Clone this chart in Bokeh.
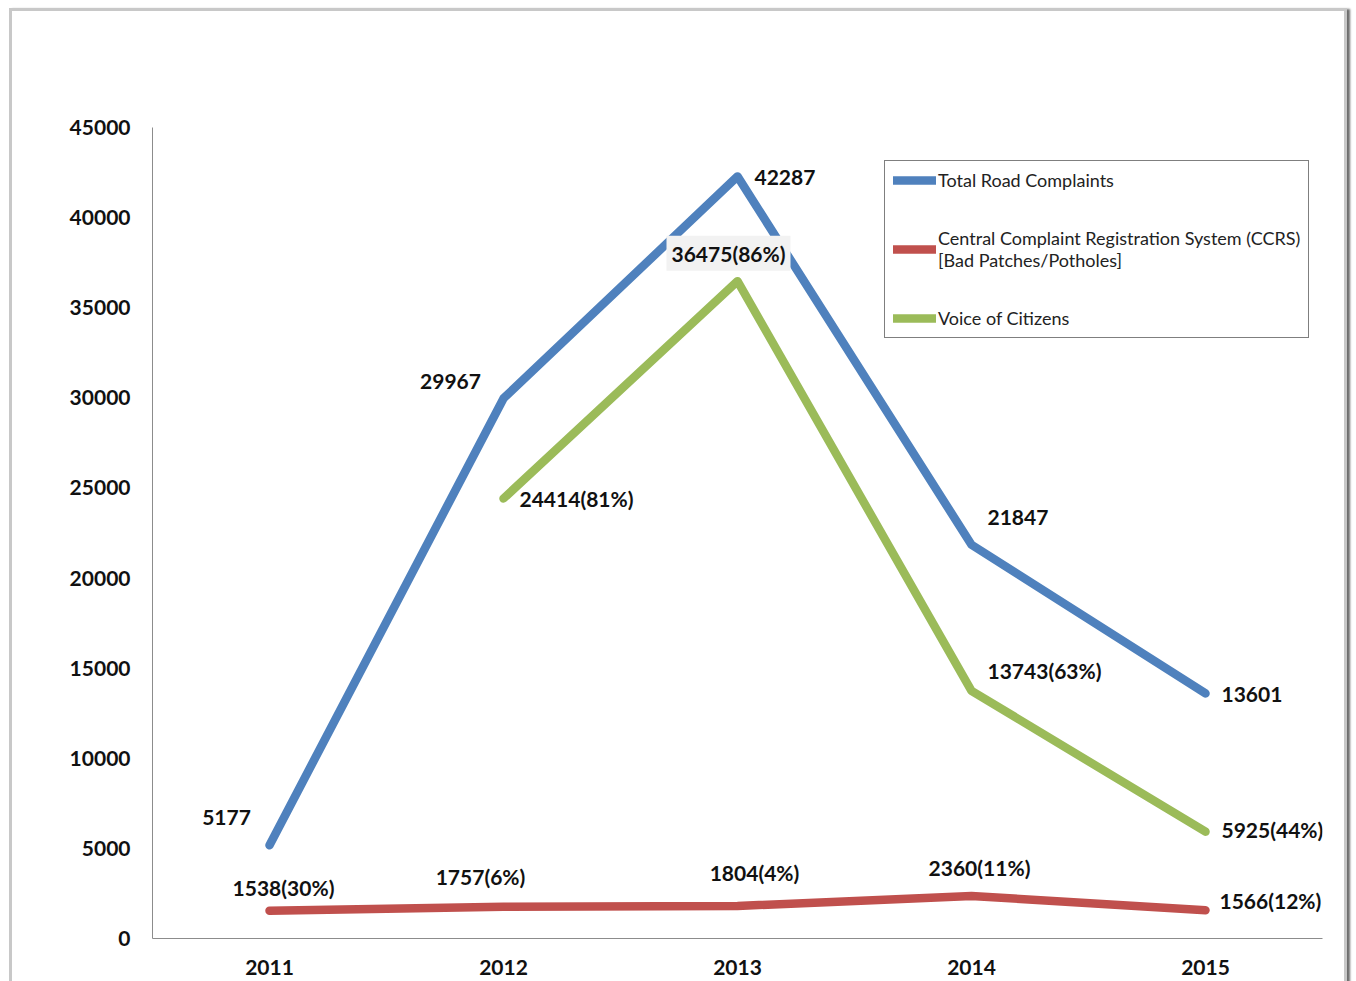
from bokeh.plotting import figure
from bokeh.models import ColumnDataSource, FactorRange, Range1d, FixedTicker, Legend, LegendItem, LabelSet
from bokeh.core.properties import value
from bokeh.embed import file_html
from bokeh.resources import INLINE
import math

years = ["2011", "2012", "2013", "2014", "2015"]
total = [5177, 29967, 42287, 21847, 13601]
ccrs = [1538, 1757, 1804, 2360, 1566]
ccrs_pct = [30, 6, 4, 11, 12]
voc = [math.nan, 24414, 36475, 13743, 5925]
voc_pct = [None, 81, 86, 63, 44]
y_ticks = [0, 5000, 10000, 15000, 20000, 25000, 30000, 35000, 40000, 45000]

series_names = ["Total Road Complaints",
                "Central Complaint Registration System (CCRS)\n[Bad Patches/Potholes]",
                "Voice of Citizens"]

BLUE, RED, GREEN = "#4f81bd", "#c0504d", "#9bbb59"
FONT = "Lato"
TXT = "#111111"

p = figure(width=1338, height=980, output_backend="svg", toolbar_location=None,
           x_range=FactorRange(factors=years), y_range=Range1d(0, 45000),
           min_border_left=140, min_border_right=28, min_border_top=116, min_border_bottom=53)
p.styles = {"border": "3px solid #c8c8c8", "border-bottom": "none",
            "box-shadow": "3px 1px 2px #6e6e6e",
            "margin-left": "9px", "margin-top": "8px"}
p.outline_line_color = None
p.xgrid.grid_line_color = None
p.ygrid.grid_line_color = None
p.background_fill_color = "white"
p.border_fill_color = "white"

for ax in (p.xaxis, p.yaxis):
    ax.axis_line_color = "#8c8c8c"
    ax.axis_line_width = 1
    ax.major_tick_line_color = None
    ax.minor_tick_line_color = None
    ax.major_label_text_font = FONT
    ax.major_label_text_font_style = "bold"
    ax.major_label_text_font_size = "21px"
    ax.major_label_text_color = TXT
p.yaxis.ticker = FixedTicker(ticks=y_ticks)
p.yaxis.major_label_standoff = 16
p.xaxis.major_label_standoff = 15

r_total = p.line(years, total, line_color=BLUE, line_width=8.5, line_cap="round", line_join="round")
r_ccrs = p.line(years, ccrs, line_color=RED, line_width=8.5, line_cap="round", line_join="round")
r_voc = p.line(years, voc, line_color=GREEN, line_width=8.5, line_cap="round", line_join="round")

# label placement (screen px offsets: dx right, dy down)
total_off = [(-43, -28, "center"), (-53, -17, "center"), (17, 1, "left"), (16, -27, "left"), (16, 1, "left")]
ccrs_off = [(14, -23, "center"), (-23, -30, "center"), (17, -33, "center"), (8, -28, "center"), (14, -10, "left")]
voc_off = [None, (16, 0, "left"), (-9, -28, "center"), (16, -20, "left"), (16, -2, "left")]
highlight_year = "2013"

plain = dict(x=[], y=[], t=[], dx=[], dy=[], al=[])
boxed = dict(x=[], y=[], t=[], dx=[], dy=[], al=[])
def add(d, x, y, t, off):
    d["x"].append(x); d["y"].append(y); d["t"].append(t)
    d["dx"].append(off[0]); d["dy"].append(off[1]); d["al"].append(off[2])

for i, yr in enumerate(years):
    add(plain, yr, total[i], str(total[i]), total_off[i])
    add(plain, yr, ccrs[i], f"{ccrs[i]}({ccrs_pct[i]}%)", ccrs_off[i])
    if voc_pct[i] is not None:
        add(boxed if yr == highlight_year else plain, yr, voc[i],
            f"{voc[i]}({voc_pct[i]}%)", voc_off[i])

# LabelSet y_offset is upward-positive
plain_src = ColumnDataSource(dict(plain, dy=[-v for v in plain["dy"]]))
labels = LabelSet(x="x", y="y", text="t", x_offset="dx", y_offset="dy", text_align="al",
                  text_baseline="middle", text_font=value(FONT), text_font_style="bold",
                  text_font_size="21px", text_color=TXT, source=plain_src)
p.add_layout(labels)

boxed_src = ColumnDataSource(boxed)
p.text(x="x", y="y", text="t", x_offset="dx", y_offset="dy", text_align="al",
       text_baseline="middle", text_font=value(FONT), text_font_style="bold",
       text_font_size="21px", text_color=TXT, background_fill_color="#f2f2f2",
       padding=5, source=boxed_src)

legend = Legend(items=[LegendItem(label=series_names[0], renderers=[r_total]),
                       LegendItem(label=series_names[1], renderers=[r_ccrs]),
                       LegendItem(label=series_names[2], renderers=[r_voc])],
                location=(732, 600))
legend.border_line_color = "#000000"
legend.border_line_width = 1
legend.background_fill_color = "white"
legend.background_fill_alpha = 1
legend.label_text_font = FONT
legend.label_text_font_size = "18px"
legend.label_text_color = "#222222"
legend.glyph_width = 43
legend.glyph_height = 20
legend.label_standoff = 2
legend.padding = 8
legend.spacing = 36
legend.margin = 0
legend.label_height = 22
p.add_layout(legend, "center")

open("out.html", "w").write(file_html(p, INLINE))
